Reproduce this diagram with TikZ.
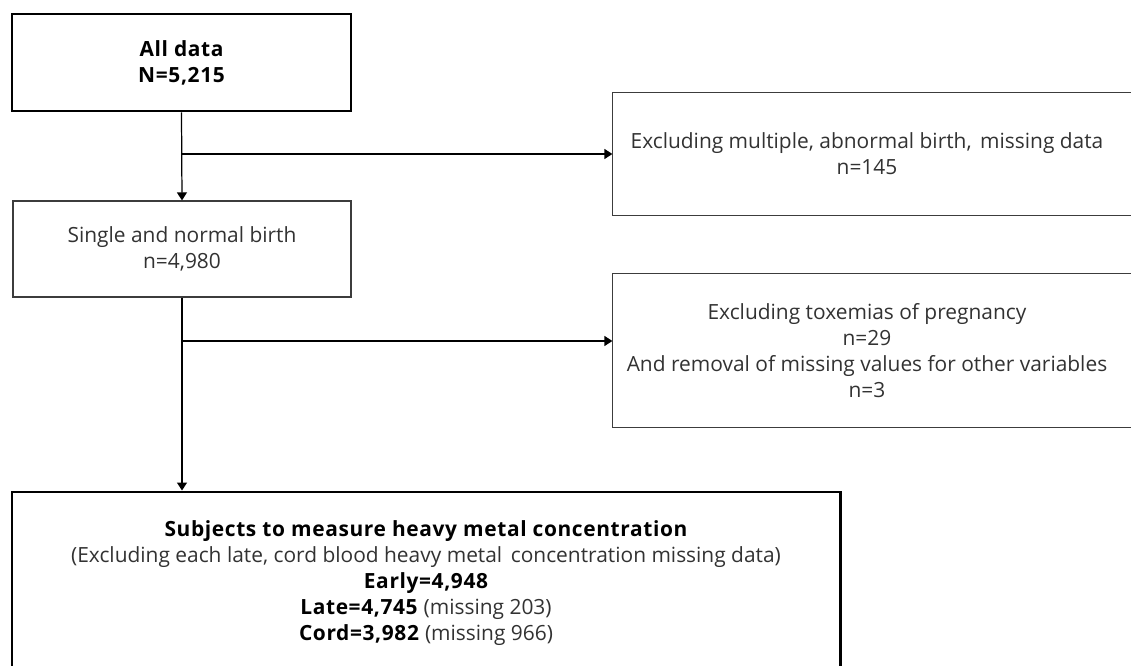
\documentclass[tikz,border=0pt]{standalone}
\usepackage{fontspec}
\setmainfont{Open Sans}[BoldFeatures={LetterSpace=3}]
\usepackage{tikz}
\usetikzlibrary{arrows.meta, positioning, calc}
\definecolor{framegray}{RGB}{60,60,60}
\definecolor{textgray}{RGB}{50,50,50}

\begin{document}
\begin{tikzpicture}[
    box/.style={draw=framegray, line width=0.7pt, align=center, text=textgray, inner sep=0pt,
                font=\fontsize{11.9}{14.8}\selectfont},
    thickbox/.style={box, draw=black, line width=1.7pt, text=black},
    flow/.style={line width=0.7pt, -{Triangle[length=1.6mm, width=2mm]}}
]
    \useasboundingbox (0,0) rectangle (22.62,13.3);
    \clip (0,0) rectangle (22.62,13.3);

    % All data
    \node[thickbox, minimum width=6.78cm, minimum height=1.94cm] (alldata) at (3.63, 12.05)
        {\bfseries All data\\\bfseries N=5,215};

    % Single and normal birth
    \node[box, minimum width=6.76cm, minimum height=1.92cm] (single) at (3.64, 8.32)
        {Single and normal birth\\n=4,980};

    % Excluded (right column), frames run past the right edge
    \node[box, draw=none, minimum width=10.16cm, minimum height=2.44cm] (excla) at (17.34, 10.22)
        {Excluding multiple, abnormal birth,\hspace{0.15em} missing data\\n=145};
    \draw[framegray, line width=0.7pt] ([xshift=1cm]excla.north east) -| (excla.south west)
        -- ([xshift=1cm]excla.south east);

    \node[box, draw=none, minimum width=10.16cm, minimum height=3.06cm] (exclb) at (17.34, 6.29)
        {Excluding toxemias of pregnancy\\n=29\\And removal of missing values for other variables\\n=3};
    \draw[framegray, line width=0.7pt] ([xshift=1cm]exclb.north east) -| (exclb.south west)
        -- ([xshift=1cm]exclb.south east);

    % Subjects
    \node[thickbox, minimum width=16.56cm, minimum height=3.64cm] (subjects) at (8.52, 1.64)
        {\bfseries Subjects to measure heavy metal concentration\\
         \color{textgray}(Excluding each late, cord blood heavy metal\hspace{0.15em} concentration missing data)\\
         \bfseries Early=4,948\\
         \textbf{Late=4,745} \color{textgray}(missing 203)\\
         \textbf{Cord=3,982} \color{textgray}(missing 966)};

    % Connectors
    \coordinate (brancha) at (alldata.south |- 0,10.22);
    \coordinate (branchb) at (single.south |- 0,6.48);
    \draw[flow] (alldata.south) -- (single.north);
    \draw[flow] (brancha) -- (brancha -| excla.west);
    \draw[flow] (single.south) -- (single.south |- subjects.north);
    \draw[flow] (branchb) -- (branchb -| exclb.west);
\end{tikzpicture}
\end{document}
